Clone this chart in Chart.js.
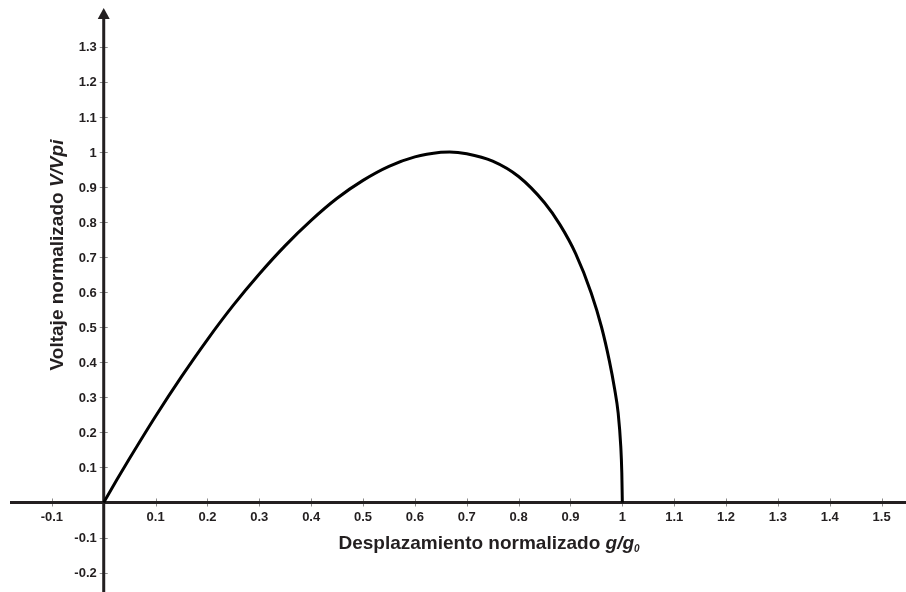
<!DOCTYPE html>
<html>
<head>
<meta charset="utf-8">
<script src="https://cdn.jsdelivr.net/npm/chart.js@4"></script>
<style>
    body { margin: 0; background: #fff; }
</style>
</head>
<body>
<canvas id="pullInChart" width="906" height="592"></canvas>
<script>
// Values
const gapValues = [0, 0.025, 0.05, 0.1, 0.15, 0.2, 0.25, 0.3, 0.35, 0.4, 0.45, 0.5, 0.55, 0.6, 0.65, 0.667, 0.7, 0.75, 0.8, 0.85, 0.88, 0.91, 0.94, 0.96, 0.975, 0.985, 0.992, 0.997, 0.999, 1.0];
const voltageValues = [0, 0.064, 0.126, 0.246, 0.359, 0.465, 0.563, 0.652, 0.733, 0.805, 0.868, 0.919, 0.959, 0.986, 0.999, 1.0, 0.995, 0.974, 0.93, 0.855, 0.792, 0.71, 0.598, 0.5, 0.404, 0.325, 0.255, 0.16, 0.085, 0];
const xTickValues = [-0.1, 0.1, 0.2, 0.3, 0.4, 0.5, 0.6, 0.7, 0.8, 0.9, 1, 1.1, 1.2, 1.3, 1.4, 1.5];
const yTickValues = [-0.2, -0.1, 0.1, 0.2, 0.3, 0.4, 0.5, 0.6, 0.7, 0.8, 0.9, 1, 1.1, 1.2, 1.3];

const inkColor = '#231f20';
const labelFont = '"Liberation Sans", Arial, sans-serif';

document.addEventListener('DOMContentLoaded', function() {
    // Axes through the origin, drawn from the chart's own scales
    const originAxes = {
        id: 'originAxes',
        beforeDatasetsDraw: function(chart) {
            const ctx = chart.ctx;
            const xs = chart.scales.x;
            const ys = chart.scales.y;
            const x0 = xs.getPixelForValue(0);
            const y0 = ys.getPixelForValue(0);

            ctx.save();

            // tick marks
            ctx.strokeStyle = '#8c8c8c';
            ctx.lineWidth = 1;
            ctx.beginPath();
            xTickValues.forEach(v => {
                const px = Math.round(xs.getPixelForValue(v)) + 0.5;
                ctx.moveTo(px, y0 - 4);
                ctx.lineTo(px, y0 + 4);
            });
            yTickValues.forEach(v => {
                const py = Math.round(ys.getPixelForValue(v)) + 0.5;
                ctx.moveTo(x0 - 4, py);
                ctx.lineTo(x0 + 4, py);
            });
            ctx.stroke();

            // axis lines
            ctx.strokeStyle = inkColor;
            ctx.lineWidth = 3;
            ctx.beginPath();
            ctx.moveTo(10, y0);
            ctx.lineTo(chart.width, y0);
            ctx.moveTo(x0, chart.height);
            ctx.lineTo(x0, 16);
            ctx.stroke();

            // arrow head on the vertical axis
            ctx.fillStyle = inkColor;
            ctx.beginPath();
            ctx.moveTo(x0, 8);
            ctx.lineTo(x0 - 6, 19);
            ctx.lineTo(x0 + 6, 19);
            ctx.closePath();
            ctx.fill();

            // tick labels
            ctx.font = 'bold 13px ' + labelFont;
            ctx.textBaseline = 'middle';
            ctx.textAlign = 'center';
            xTickValues.forEach(v => {
                ctx.fillText(String(v), xs.getPixelForValue(v), y0 + 15);
            });
            ctx.textAlign = 'right';
            yTickValues.forEach(v => {
                ctx.fillText(String(v), x0 - 7, ys.getPixelForValue(v) + 1);
            });

            // x title: Desplazamiento normalizado g/g0
            ctx.textBaseline = 'alphabetic';
            ctx.textAlign = 'left';
            const partA = 'Desplazamiento normalizado ';
            const partB = 'g/g';
            const partC = '0';
            const fA = 'bold 19px ' + labelFont;
            const fB = 'italic bold 19px ' + labelFont;
            const fC = 'italic bold 10px ' + labelFont;
            ctx.font = fA; const wA = ctx.measureText(partA).width;
            ctx.font = fB; const wB = ctx.measureText(partB).width;
            ctx.font = fC; const wC = ctx.measureText(partC).width;
            let tx = 489 - (wA + wB + wC) / 2;
            const tBase = 549;
            ctx.font = fA; ctx.fillText(partA, tx, tBase); tx += wA;
            ctx.font = fB; ctx.fillText(partB, tx, tBase); tx += wB;
            ctx.font = fC; ctx.fillText(partC, tx, tBase + 3);

            // y title: Voltaje normalizado V/Vpi
            ctx.translate(63, 255);
            ctx.rotate(-Math.PI / 2);
            const partD = 'Voltaje normalizado ';
            const partE = 'V/Vpi';
            ctx.font = fA; const wD = ctx.measureText(partD).width;
            ctx.font = fB; const wE = ctx.measureText(partE).width;
            let ty = -(wD + wE) / 2;
            ctx.font = fA; ctx.fillText(partD, ty, 0); ty += wD;
            ctx.font = fB; ctx.fillText(partE, ty, 0);

            ctx.restore();
        }
    };

    const ctx = document.getElementById('pullInChart').getContext('2d');
    const pullInChart = new Chart(ctx, {
        type: 'scatter',
        data: {
            datasets: [{
                data: gapValues.map((g, i) => ({ x: g, y: voltageValues[i] })),
                showLine: true,
                borderColor: '#000',
                borderWidth: 3,
                pointRadius: 0,
                cubicInterpolationMode: 'monotone',
                fill: false
            }]
        },
        options: {
            responsive: false,
            animation: false,
            layout: { padding: 0 },
            scales: {
                x: { type: 'linear', display: false, min: -0.2, max: 1.547 },
                y: { type: 'linear', display: false, min: -0.2554, max: 1.4337 }
            },
            plugins: {
                legend: { display: false },
                tooltip: { enabled: false }
            }
        },
        plugins: [originAxes]
    });
});
</script>
</body>
</html>
